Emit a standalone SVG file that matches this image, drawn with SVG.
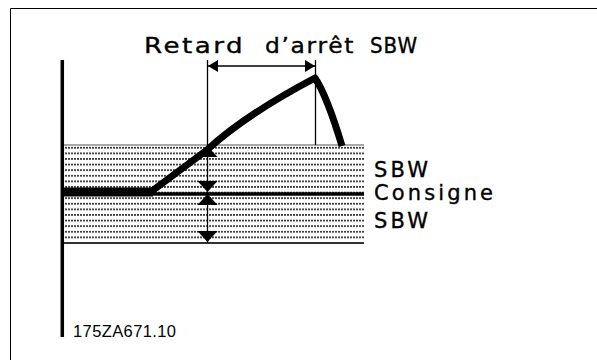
<svg xmlns="http://www.w3.org/2000/svg" width="597" height="360" viewBox="0 0 597 360">
  <style>
    .lbl { font-family: "DejaVu Sans", "Liberation Sans", sans-serif; font-size: 21px; fill: #000; stroke: #000; stroke-width: 0.35; }
    .ref { font-family: "Liberation Sans", Arial, sans-serif; font-size: 16.5px; fill: #000; }
    .thin { stroke: #000; stroke-width: 1.3; fill: none; }
    .head { fill: #000; }
  </style>
  <defs>
    <pattern id="dots" x="62" y="145" width="3" height="5.6" patternUnits="userSpaceOnUse">
      <rect x="0" y="2" width="2" height="1.5" fill="#1a1a1a"/>
    </pattern>
    <polygon id="headDown" points="-10,-11 10,-11 0,0"/>
    <polygon id="headUp" points="-10,11 10,11 0,0"/>
    <polygon id="headLeft" points="0,0 10,-6 10,6"/>
    <polygon id="headRight" points="0,0 -10,-6 -10,6"/>
  </defs>

  <rect width="597" height="360" fill="#fff"/>

  <!-- frame -->
  <g id="frame">
    <path d="M10.5,360 V8.5 H597" fill="none" stroke="#000" stroke-width="1"/>
  </g>

  <!-- tolerance band around the setpoint -->
  <g id="band">
    <rect x="62" y="145" width="302" height="98" fill="url(#dots)"/>
    <line x1="62" y1="145" x2="364" y2="145" stroke="#555" stroke-width="1.2"/>
    <line x1="62" y1="243" x2="364" y2="243" stroke="#333" stroke-width="1.8"/>
    <line id="setpoint" x1="62" y1="194" x2="364" y2="194" stroke="#000" stroke-width="3.5"/>
  </g>

  <!-- vertical axis -->
  <g id="axis">
    <line x1="62.3" y1="60" x2="62.3" y2="337" stroke="#000" stroke-width="3.5"/>
  </g>

  <!-- process value curve -->
  <g id="curve">
    <line x1="62" y1="192" x2="153" y2="192" stroke="#000" stroke-width="9"/>
    <path d="M152,191 L207,150 Q245,115 315,78 Q327,96 342,146" fill="none" stroke="#000" stroke-width="7" stroke-linejoin="round"/>
  </g>

  <!-- dimension lines and arrows -->
  <g id="connectors">
    <line class="thin" x1="207.5" y1="60" x2="207.5" y2="243"/>
    <line class="thin" x1="315.5" y1="60" x2="315.5" y2="145"/>
    <line class="thin" x1="207.5" y1="66" x2="315.5" y2="66"/>
    <use href="#headLeft" class="head" x="208" y="66"/>
    <use href="#headRight" class="head" x="315" y="66"/>
    <use href="#headUp" class="head" x="207.5" y="146"/>
    <use href="#headDown" class="head" x="207.5" y="192"/>
    <use href="#headUp" class="head" x="207.5" y="194"/>
    <use href="#headDown" class="head" x="207.5" y="242"/>
  </g>

  <g id="title">
    <text class="lbl" x="144" y="53.3" letter-spacing="2" textLength="101" lengthAdjust="spacingAndGlyphs">Retard</text>
    <text class="lbl" x="265" y="53.3" letter-spacing="1.5" textLength="90" lengthAdjust="spacingAndGlyphs">d’arrêt</text>
    <text class="lbl" x="370" y="53.3" letter-spacing="1" textLength="48" lengthAdjust="spacingAndGlyphs">SBW</text>
  </g>
  <g id="label-sbw-high">
    <text class="lbl" x="374" y="176.7" textLength="54" lengthAdjust="spacing">SBW</text>
  </g>
  <g id="label-setpoint">
    <text class="lbl" x="374" y="200" textLength="119" lengthAdjust="spacing">Consigne</text>
  </g>
  <g id="label-sbw-low">
    <text class="lbl" x="374" y="228.3" textLength="54" lengthAdjust="spacing">SBW</text>
  </g>
  <g id="ref">
    <text class="ref" x="73" y="336.5" textLength="103" lengthAdjust="spacing">175ZA671.10</text>
  </g>
</svg>
